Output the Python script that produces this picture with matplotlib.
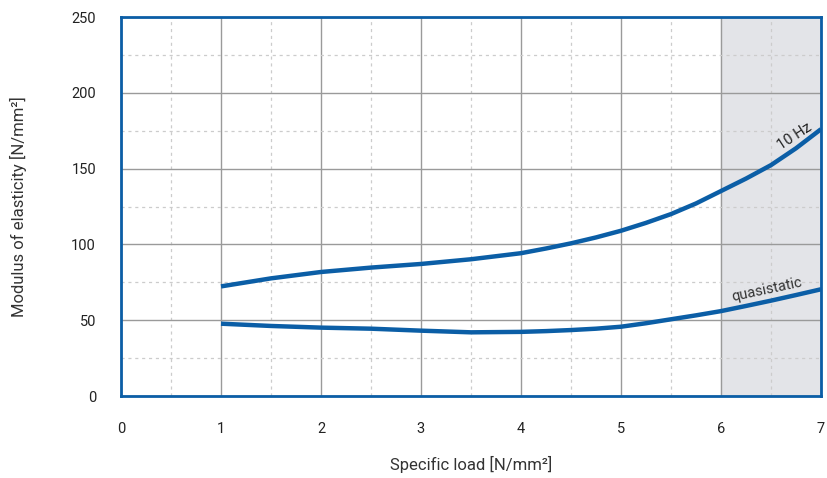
import numpy as np
import matplotlib.pyplot as plt

plt.rcParams['font.family'] = ['Roboto', 'DejaVu Sans']

# curves
load = [1, 1.5, 2, 2.5, 3, 3.5, 4, 4.25, 4.5, 4.75, 5, 5.25, 5.5, 5.75,
        6, 6.25, 6.5, 6.75, 7]
e_10hz = [72.3, 77.6, 81.8, 84.7, 87.1, 90.2, 94.2, 97.3, 100.7, 104.6, 109,
          114.2, 120, 127, 135.2, 143.4, 152.3, 163.4, 176]
e_quasi = [47.7, 46.2, 45.1, 44.4, 43.1, 42.0, 42.3, 42.8, 43.5, 44.4, 45.7,
           48, 50.6, 53.2, 56, 59.4, 62.9, 66.6, 70.4]

blue = '#0b5ea6'
grid_c = '#9a9a9a'

fig = plt.figure(figsize=(8.28, 4.78), dpi=100)
ax = fig.add_axes([121 / 828, 82 / 478, 700 / 828, 379 / 478])

ax.axvspan(6, 7, color='#e3e4e8', zorder=0)

ax.plot(load, e_10hz, color=blue, lw=3.2, solid_capstyle='butt',
        solid_joinstyle='round', zorder=3)
ax.plot(load, e_quasi, color=blue, lw=3.2, solid_capstyle='butt',
        solid_joinstyle='round', zorder=3)

ax.set_xlim(0, 7)
ax.set_ylim(0, 250)
ax.set_xticks(np.arange(0, 8, 1))
ax.set_yticks(np.arange(0, 251, 50))
ax.set_xticks(np.arange(0.5, 7, 1), minor=True)
ax.set_yticks(np.arange(25, 250, 50), minor=True)
ax.grid(which='major', color=grid_c, lw=1, zorder=1)
ax.grid(which='minor', color='#cccccc', lw=0.9, ls=(0, (2.5, 3)), zorder=1)
ax.set_axisbelow(True)

ax.tick_params(which='both', length=0)
ax.tick_params(axis='x', pad=19, labelsize=10.5, colors='#222222')
ax.tick_params(axis='y', pad=18, labelsize=10.5, colors='#222222')

for s in ax.spines.values():
    s.set_color(blue)
    s.set_linewidth(2)

ax.set_xlabel('Specific load [N/mm²]', fontsize=12, color='#333333', labelpad=14)
ax.set_ylabel('Modulus of elasticity [N/mm²]', fontsize=12, color='#333333',
              labelpad=32)

ax.text(6.74, 171, '10 Hz', rotation=33, fontsize=10.5, color='#222222',
        ha='center', va='center')
ax.text(6.46, 70, 'quasistatic', rotation=12, fontsize=10.5, color='#333333',
        ha='center', va='center')

fig.savefig('out.png', dpi=100)
